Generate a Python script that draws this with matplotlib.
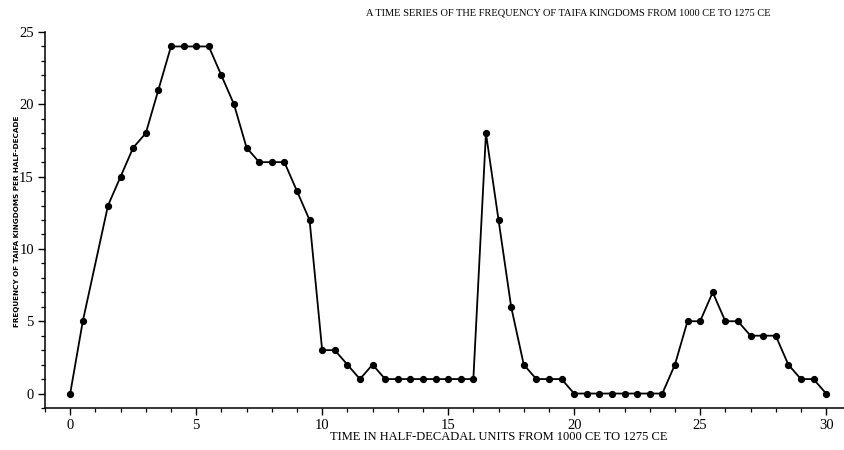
import matplotlib
matplotlib.use("Agg")
import matplotlib.pyplot as plt
from matplotlib.ticker import MultipleLocator

# half-decade index and number of taifa kingdoms at each step
time_units = [0, 0.5, 1.5, 2, 2.5, 3, 3.5, 4, 4.5, 5, 5.5, 6, 6.5, 7, 7.5, 8, 8.5, 9, 9.5,
              10, 10.5, 11, 11.5, 12, 12.5, 13, 13.5, 14, 14.5, 15, 15.5, 16, 16.5, 17, 17.5,
              18, 18.5, 19, 19.5, 20, 20.5, 21, 21.5, 22, 22.5, 23, 23.5, 24, 24.5, 25, 25.5,
              26, 26.5, 27, 27.5, 28, 28.5, 29, 29.5, 30]
kingdoms = [0, 5, 13, 15, 17, 18, 21, 24, 24, 24, 24, 22, 20, 17, 16, 16, 16, 14, 12,
            3, 3, 2, 1, 2, 1, 1, 1, 1, 1, 1, 1, 1, 18, 12, 6,
            2, 1, 1, 1, 0, 0, 0, 0, 0, 0, 0, 0, 2, 5, 5, 7,
            5, 5, 4, 4, 4, 2, 1, 1, 0]

title_text = "A TIME SERIES OF THE FREQUENCY OF TAIFA KINGDOMS FROM 1000 CE TO 1275 CE"
xlabel_text = "TIME IN HALF-DECADAL UNITS FROM 1000 CE TO 1275 CE"
ylabel_text = "FREQUENCY OF TAIFA KINGDOMS PER HALF-DECADE"

serif = ["Liberation Serif", "DejaVu Serif"]

fig = plt.figure(figsize=(8.45, 4.5), dpi=100)
ax = fig.add_axes([45 / 845, 42 / 450, 800 / 845, 376 / 450])

ax.plot(time_units, kingdoms, color="black", linewidth=1.3,
        marker="o", markersize=4.2, markerfacecolor="black", markeredgecolor="black")

ax.set_xlim(-1, 30.75)
ax.set_ylim(-1, 25)
ax.xaxis.set_major_locator(MultipleLocator(5))
ax.xaxis.set_minor_locator(MultipleLocator(1))
ax.yaxis.set_major_locator(MultipleLocator(5))
ax.yaxis.set_minor_locator(MultipleLocator(1))

ax.spines["top"].set_visible(False)
ax.spines["right"].set_visible(False)
ax.spines["left"].set_bounds(-1, 25)
for side in ("left", "bottom"):
    ax.spines[side].set_linewidth(1.1)
ax.tick_params(which="major", direction="out", length=5, width=1.0, pad=3)
ax.tick_params(which="minor", direction="out", length=3, width=0.9)
for lbl in ax.get_xticklabels() + ax.get_yticklabels():
    lbl.set_family(serif)
    lbl.set_fontsize(10.5)

fig.text(0.673, 0.972, title_text, ha="center", va="center",
         family=serif, fontsize=7.5)
fig.text(0.59, 0.028, xlabel_text, ha="center", va="center",
         family=serif, fontsize=9.0)
fig.text(0.020, 0.509, ylabel_text, ha="center", va="center", rotation=90,
         family=["Liberation Sans Narrow", "DejaVu Sans"], fontsize=5.2, fontweight="bold")

fig.savefig("out.png", dpi=100, facecolor="white")
